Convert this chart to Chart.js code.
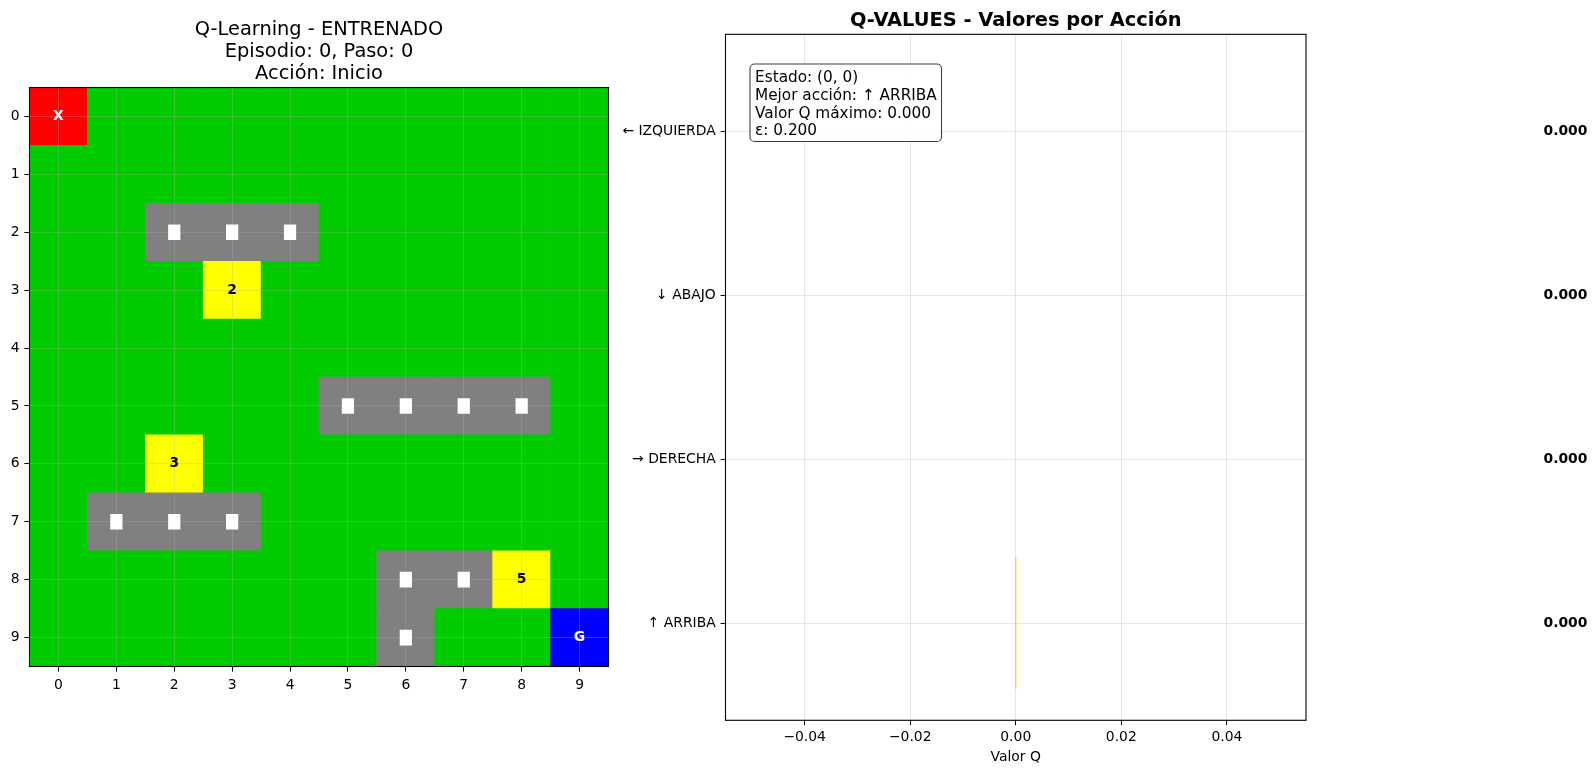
<!DOCTYPE html>
<html>
<head>
<meta charset="utf-8">
<script src="https://cdn.jsdelivr.net/npm/chart.js@4/dist/chart.umd.min.js"></script>
<style>
  html, body { margin: 0; padding: 0; background: #ffffff; }
  #wrap { position: relative; width: 1596px; height: 773px; overflow: hidden; background: #fff; }
  canvas { position: absolute; left: 0; top: 0; }
</style>
</head>
<body>
<div id="wrap">
  <canvas id="gridChart" width="1596" height="773"></canvas>
  <canvas id="qChart" width="1596" height="773"></canvas>
</div>
<script>
// ---------------- DATA ----------------
// Environment grid (rows top to bottom): '.' free, '#' obstacle, 'S' agent, 'G' goal, digits = reward cells
const gridRows = [
  'S.........',
  '..........',
  '..###.....',
  '...2......',
  '..........',
  '.....####.',
  '..3.......',
  '.###......',
  '......##5.',
  '......#..G'
];
const gridTicks = [0, 1, 2, 3, 4, 5, 6, 7, 8, 9];
const leftTitle = ['Q-Learning - ENTRENADO', 'Episodio: 0, Paso: 0', 'Acción: Inicio'];

const actions = ['↑ ARRIBA', '→ DERECHA', '↓ ABAJO', '← IZQUIERDA'];
const actionTicks = [0, 1, 2, 3];
const qValues = [0, 0, 0, 0];
const bestAction = 0;
const qTicks = [-0.04, -0.02, 0, 0.02, 0.04];
const rightTitle = 'Q-VALUES - Valores por Acción';
const xLabel = 'Valor Q';
const agentState = [0, 0];
const epsilon = 0.2;

// ---------------- STYLE ----------------
const FONT = 'DejaVu Sans';
const palette = { '.': '#00CC00', '#': '#808080', 'S': '#FF0000', 'G': '#0000FF', 'R': '#FFFF00' };
const gridLineColor = 'rgba(176,176,176,0.3)';
Chart.defaults.font.family = FONT;
Chart.defaults.color = '#000';
Chart.defaults.animation = false;

function cellKind(ch) { return /[0-9]/.test(ch) ? 'R' : ch; }
function cellText(ch) {
  if (ch === 'S') return { t: 'X', c: '#ffffff' };
  if (ch === 'G') return { t: 'G', c: '#ffffff' };
  if (/[0-9]/.test(ch)) return { t: ch, c: '#000000' };
  return null;
}

const framePlugin = {
  id: 'frame',
  afterDraw(chart) {
    const a = chart.chartArea, ctx = chart.ctx;
    ctx.save();
    ctx.strokeStyle = '#000';
    ctx.lineWidth = 1.1;
    ctx.strokeRect(a.left, a.top, a.right - a.left, a.bottom - a.top);
    ctx.restore();
  }
};

// ---------------- LEFT: GRID ----------------
const cellData = [], cellColors = [], obstacleData = [];
gridRows.forEach((row, r) => {
  [...row].forEach((ch, c) => {
    cellData.push({ x: [c - 0.5, c + 0.5], y: r });
    cellColors.push(palette[cellKind(ch)]);
    if (ch === '#') obstacleData.push({ x: [c - 0.1, c + 0.1], y: r });
  });
});

const gridOverlayPlugin = {
  id: 'gridOverlay',
  afterDatasetDraw(chart, args) {
    if (args.meta.order !== 1) return;
    const area = chart.chartArea;
    chart.scales.x.drawGrid(area);
    chart.scales.y.drawGrid(area);
  },
  afterDatasetsDraw(chart) {
    const ctx = chart.ctx, xs = chart.scales.x, ys = chart.scales.y;
    ctx.save();
    ctx.font = 'bold 13.9px "' + FONT + '"';
    ctx.textAlign = 'center';
    ctx.textBaseline = 'middle';
    gridRows.forEach((row, r) => {
      [...row].forEach((ch, c) => {
        const t = cellText(ch);
        if (!t) return;
        ctx.fillStyle = t.c;
        ctx.fillText(t.t, xs.getPixelForValue(c), ys.getPixelForValue(r));
      });
    });
    ctx.restore();
  }
};

const tickFont = { family: FONT, size: 13.9 };

new Chart(document.getElementById('gridChart'), {
  type: 'bar',
  data: {
    datasets: [
      { label: 'obstacles', data: obstacleData, backgroundColor: '#ffffff', borderWidth: 0,
        grouped: false, barThickness: 15, order: 0 },
      { label: 'cells', data: cellData, backgroundColor: cellColors, borderWidth: 0,
        grouped: false, categoryPercentage: 1, barPercentage: 1, order: 1 }
    ]
  },
  options: {
    responsive: false,
    devicePixelRatio: 1,
    indexAxis: 'y',
    layout: { padding: { left: 0, right: 987.5, top: 0, bottom: 66.5 } },
    plugins: {
      legend: { display: false },
      tooltip: { enabled: false },
      title: {
        display: true, text: leftTitle, fullSize: false, color: '#000',
        font: { family: FONT, size: 19.4, weight: 'normal', lineHeight: 1.15 },
        padding: { top: 18.6, bottom: 2.0 }
      }
    },
    scales: {
      x: {
        type: 'linear', position: 'bottom', min: -0.5, max: 9.5, offset: false,
        afterBuildTicks: s => { s.ticks = gridTicks.map(v => ({ value: v })); },
        afterFit: s => { s.height = 40; },
        ticks: { font: tickFont, color: '#000', padding: 5.3, maxRotation: 0, autoSkip: false,
                 callback: v => String(v) },
        grid: { offset: false, color: gridLineColor, lineWidth: 1, tickColor: '#000', tickLength: 4.9, tickWidth: 1 },
        border: { display: false }
      },
      y: {
        type: 'linear', position: 'left', reverse: true, min: -0.5, max: 9.5, offset: false,
        afterBuildTicks: s => { s.ticks = gridTicks.map(v => ({ value: v })); },
        afterFit: s => { s.width = 29.5; },
        ticks: { font: tickFont, color: '#000', padding: 4.9, autoSkip: false,
                 callback: v => String(v) },
        grid: { offset: false, color: gridLineColor, lineWidth: 1, tickColor: '#000', tickLength: 4.9, tickWidth: 1 },
        border: { display: false }
      }
    }
  },
  plugins: [gridOverlayPlugin, framePlugin]
});

// ---------------- RIGHT: Q-VALUES ----------------
const qData = actions.map((a, i) => ({ x: qValues[i], y: actionTicks[i] }));
const maxQ = Math.max(...qValues);
const infoLines = [
  'Estado: (' + agentState[0] + ', ' + agentState[1] + ')',
  'Mejor acción: ' + actions[bestAction],
  'Valor Q máximo: ' + maxQ.toFixed(3),
  'ε: ' + epsilon.toFixed(3)
];

const qPlugin = {
  id: 'qAnnot',
  afterDraw(chart) {
    const ctx = chart.ctx, xs = chart.scales.x, ys = chart.scales.y, a = chart.chartArea;
    ctx.save();
    // value labels
    ctx.font = 'bold 13.9px "' + FONT + '"';
    ctx.fillStyle = '#000';
    ctx.textAlign = 'left';
    ctx.textBaseline = 'middle';
    qValues.forEach((q, i) => {
      ctx.fillText(q.toFixed(3), xs.getPixelForValue(q + 0.1), ys.getPixelForValue(actionTicks[i]));
    });
    // info box
    const bx = a.left + 24.5, by = a.top + 29.7, bw = 191.5, bh = 77.5, rr = 4.5;
    ctx.beginPath();
    ctx.moveTo(bx + rr, by);
    ctx.arcTo(bx + bw, by, bx + bw, by + bh, rr);
    ctx.arcTo(bx + bw, by + bh, bx, by + bh, rr);
    ctx.arcTo(bx, by + bh, bx, by, rr);
    ctx.arcTo(bx, by, bx + bw, by, rr);
    ctx.closePath();
    ctx.fillStyle = 'rgba(255,255,255,0.85)';
    ctx.fill();
    ctx.strokeStyle = '#404040';
    ctx.lineWidth = 1.1;
    ctx.stroke();
    ctx.font = '15.3px "' + FONT + '"';
    ctx.fillStyle = '#000';
    ctx.textBaseline = 'alphabetic';
    infoLines.forEach((t, i) => {
      ctx.fillText(t, a.left + 29.5, by + 18.3 + i * 17.6);
    });
    ctx.restore();
  }
};

new Chart(document.getElementById('qChart'), {
  type: 'bar',
  data: {
    datasets: [{
      label: 'Q', data: qData,
      backgroundColor: ctx => ctx.dataIndex === bestAction ? '#FFD000' : 'rgba(0,0,0,0)',
      borderWidth: 0, minBarLength: 1.2,
      categoryPercentage: 0.8, barPercentage: 1
    }]
  },
  options: {
    responsive: false,
    devicePixelRatio: 1,
    indexAxis: 'y',
    layout: { padding: { left: 605.5, right: 290, top: 0.8, bottom: 7.7 } },
    plugins: {
      legend: { display: false },
      tooltip: { enabled: false },
      title: {
        display: true, text: rightTitle, fullSize: false, color: '#000',
        font: { family: FONT, size: 19.4, weight: 'bold', lineHeight: 1.15 },
        padding: { top: 9.0, bottom: 2.2 }
      }
    },
    scales: {
      x: {
        type: 'linear', position: 'bottom', min: -0.055, max: 0.055, offset: false,
        afterBuildTicks: s => { s.ticks = qTicks.map(v => ({ value: v })); },
        afterFit: s => { s.height = 45; },
        ticks: { font: tickFont, color: '#000', padding: 4.0, maxRotation: 0, autoSkip: false,
                 callback: v => (v < 0 ? '\u2212' : '') + Math.abs(v).toFixed(2) },
        grid: { offset: false, color: gridLineColor, lineWidth: 1, tickColor: '#000', tickLength: 4.9, tickWidth: 1 },
        border: { display: false },
        title: { display: true, text: xLabel, color: '#000', font: { family: FONT, size: 13.9 },
                 padding: { top: 0, bottom: 0 } }
      },
      y: {
        type: 'linear', position: 'left', min: -0.59, max: 3.59, offset: false,
        afterBuildTicks: s => { s.ticks = actionTicks.map(v => ({ value: v })); },
        afterFit: s => { s.width = 120; },
        ticks: { font: tickFont, color: '#000', padding: 4.9, autoSkip: false,
                 callback: v => actions[v] },
        grid: { offset: false, color: gridLineColor, lineWidth: 1, tickColor: '#000', tickLength: 4.9, tickWidth: 1 },
        border: { display: false }
      }
    }
  },
  plugins: [qPlugin, framePlugin]
});
</script>
</body>
</html>
